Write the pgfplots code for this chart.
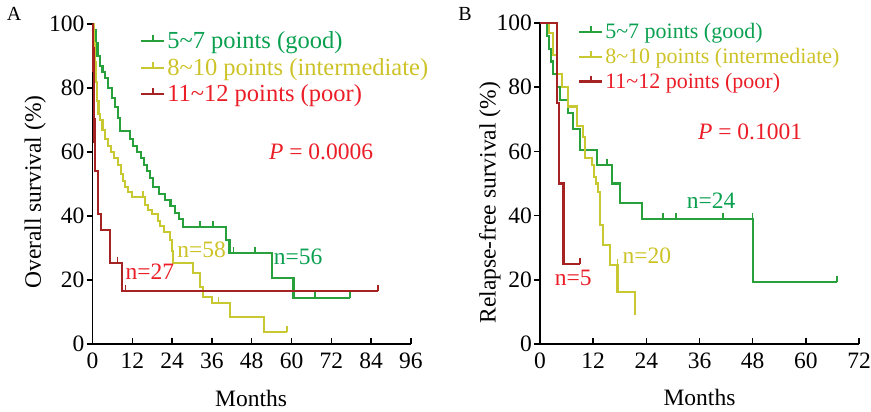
\documentclass[border=0pt]{standalone}
\usepackage{fontspec}
\setmainfont{Liberation Serif}
\usepackage{pgfplots}
\pgfplotsset{compat=1.18}
\definecolor{gL}{RGB}{40,160,60}
\definecolor{gT}{RGB}{10,160,80}
\definecolor{yL}{RGB}{200,200,50}
\definecolor{yT}{RGB}{205,195,40}
\definecolor{rL}{RGB}{165,35,35}
\definecolor{rT}{RGB}{235,30,40}
\pgfdeclareplotmark{cens}{\pgfpathmoveto{\pgfqpoint{0pt}{0pt}}\pgfpathlineto{\pgfqpoint{0pt}{6pt}}\pgfusepathqstroke}
\newcommand\tld{\char"7E\relax}
\pgfplotsset{
  kmaxis/.style={
    scale only axis, anchor=south west, clip=false,
    xmin=0, ymin=0, ymax=100,
    axis lines=left, axis line style={-, line width=1.8pt, black},
    xtick align=inside, ytick align=outside,
    major tick length=6pt, tick style={line width=1.5pt, black},
    ytick={0,20,40,60,80,100},
    tick label style={font=\fontsize{23.5}{25}\selectfont},
    yticklabel style={inner xsep=2pt},
    xticklabel style={yshift=-5pt},
    /pgf/number format/assume math mode=true,
    label style={font=\fontsize{23.5}{26}\selectfont},
    xlabel={Months},
    legend image code/.code={\draw[#1] (0pt,0pt) -- (23pt,0pt); \draw[#1] (11.5pt,0pt) -- (11.5pt,6pt);},
  },
  km/.style={const plot, line width=2.1pt, #1},
  cm/.style={only marks, mark=cens, line width=1.6pt, #1, forget plot},
}
\begin{document}
\begin{tikzpicture}[x=1pt,y=1pt]
\path[use as bounding box] (0,0) rectangle (871,412);
\node[font=\fontsize{20}{22}\selectfont] at (14,398) {A};
\node[font=\fontsize{20}{22}\selectfont] at (465,398) {B};
\begin{axis}[kmaxis, at={(92.5pt,68pt)}, width=318.5pt, height=320pt,
  xmax=96, xtick={0,12,...,96},
  ylabel={Overall survival (\%)},
  ylabel style={at={(axis description cs:-0.18,0.475)}, anchor=center},
  xlabel style={at={(axis description cs:0.498,-0.169)}, anchor=center},
  legend style={draw=none, fill=none, at={(axis description cs:0.149,0.982)}, anchor=north west,
    inner sep=0pt, row sep=4pt, font=\fontsize{24.5}{26}\selectfont, cells={anchor=west}},
]
\addplot[km=gL] coordinates {(0,100)(0.5,98)(1,94)(1.5,90)(2.3,87)(3,85)(3.8,83)(4.7,80)(5.9,77)(6.8,74)(7.7,70.5)(8.3,66.5)(11.3,64)(12.3,62)(13.5,60)(14.5,58)(15.5,56)(16.5,54)(17.4,52)(18.3,49)(20,47)(21.9,45)(23.5,43)(24.9,41)(26,39)(27.4,36.5)(40.3,32.5)(41.3,28.4)(54.2,20.6)(60.6,14.4)(77.7,14.4)};
\addlegendentry{\textcolor{gT}{5\tld 7 points (good)}}
\addplot[km=yL] coordinates {(0,100)(0.3,94)(0.6,88)(0.9,82)(1.3,76)(1.8,72)(2.3,70)(3,67)(3.8,64)(4.6,62)(5.5,60)(6.6,58)(7.7,56)(8.5,53)(9.3,51)(9.8,49)(10.8,47.5)(11.9,46)(15.8,43.5)(16.8,42)(18,40.5)(19.8,38.5)(20.4,37)(21.5,35)(23.4,32.5)(24,29)(24.4,25.2)(30.4,22.1)(32.4,17.9)(33.4,14.8)(36,12.7)(41.5,8.5)(51.6,3.8)(58.6,3.8)};
\addlegendentry{\textcolor{yT}{8\tld 10 points (intermediate)}}
\addplot[km=rL] coordinates {(0,100)(0.15,92.6)(0.3,85.2)(0.4,77.8)(0.5,70.4)(0.6,63)(0.7,54)(1.7,40.7)(2.6,35.6)(5.3,25.3)(8.9,16.6)(86,16.6)};
\addlegendentry{\textcolor{rT}{11\tld 12 points (poor)}}
\addplot[cm=gL] coordinates {(32.4,36.5)(36.4,36.5)(42.5,28.4)(49,28.4)(67,14.4)(77.7,14.4)};
\addplot[cm=yL] coordinates {(15.2,46)(38,12.7)(58.6,3.8)};
\addplot[cm=rL] coordinates {(7.5,25.3)(10,16.6)(86,16.6)};
\node[text=rT, font=\fontsize{23.5}{26}\selectfont] at (axis cs:17.3,22.7) {n=27};
\node[text=yT, font=\fontsize{23.5}{26}\selectfont] at (axis cs:32.9,29.4) {n=58};
\node[text=gT, font=\fontsize{23.5}{26}\selectfont] at (axis cs:62,27.2) {n=56};
\node[text=rT, font=\fontsize{23.5}{26}\selectfont] at (axis cs:68.9,60) {\textit{P} = 0.0006};
\end{axis}
\begin{axis}[kmaxis, at={(540pt,68pt)}, width=319pt, height=321pt,
  xmax=72, xtick={0,12,...,72},
  ylabel={Relapse-free survival (\%)},
  ylabel style={at={(axis description cs:-0.157,0.44)}, anchor=center},
  xlabel style={at={(axis description cs:0.50,-0.168)}, anchor=center},
  legend style={draw=none, fill=none, at={(axis description cs:0.119,1.005)}, anchor=north west,
    inner sep=0pt, row sep=4pt, font=\fontsize{22}{24}\selectfont, cells={anchor=west}},
]
\addplot[km=gL] coordinates {(0,100)(1.5,96)(2,92)(2.5,88)(3,84)(3.8,80)(4.5,76)(6.3,72)(7.4,67)(9,60.4)(12.9,55.8)(16.3,50)(18,44)(23,39)(48,19.3)(67,19.3)};
\addlegendentry{\textcolor{gT}{5\tld 7 points (good)}}
\addplot[km=yL] coordinates {(0,100)(2,97)(3,90)(3.8,84)(5,80)(6.3,74)(8.3,68)(9.7,64.5)(10.2,58)(11.7,55.8)(12.2,52)(12.7,50)(13.1,47.4)(13.5,37.1)(14.3,30.8)(15.8,24.6)(17.5,16.3)(21.4,9)};
\addlegendentry{\textcolor{yT}{8\tld 10 points (intermediate)}}
\addplot[km=rL] coordinates {(0,100)(3.8,75)(4.3,50)(5.3,25)(9,25)};
\addlegendentry{\textcolor{rT}{11\tld 12 points (poor)}}
\addplot[cm=gL] coordinates {(15.1,55.8)(27.8,39)(30.7,39)(41.3,39)(48,39)(67,19.3)};
\addplot[cm=yL] coordinates {(17.5,24.6)(21.4,9)};
\addplot[cm=rL] coordinates {(9,25)};
\node[text=gT, font=\fontsize{23.5}{26}\selectfont] at (axis cs:38.6,44.7) {n=24};
\node[text=yT, font=\fontsize{23.5}{26}\selectfont] at (axis cs:24.1,27.6) {n=20};
\node[text=rT, font=\fontsize{23.5}{26}\selectfont] at (axis cs:7.5,20.5) {n=5};
\node[text=rT, font=\fontsize{23.5}{26}\selectfont] at (axis cs:47.4,66) {\textit{P} = 0.1001};
\end{axis}
\end{tikzpicture}
\end{document}
